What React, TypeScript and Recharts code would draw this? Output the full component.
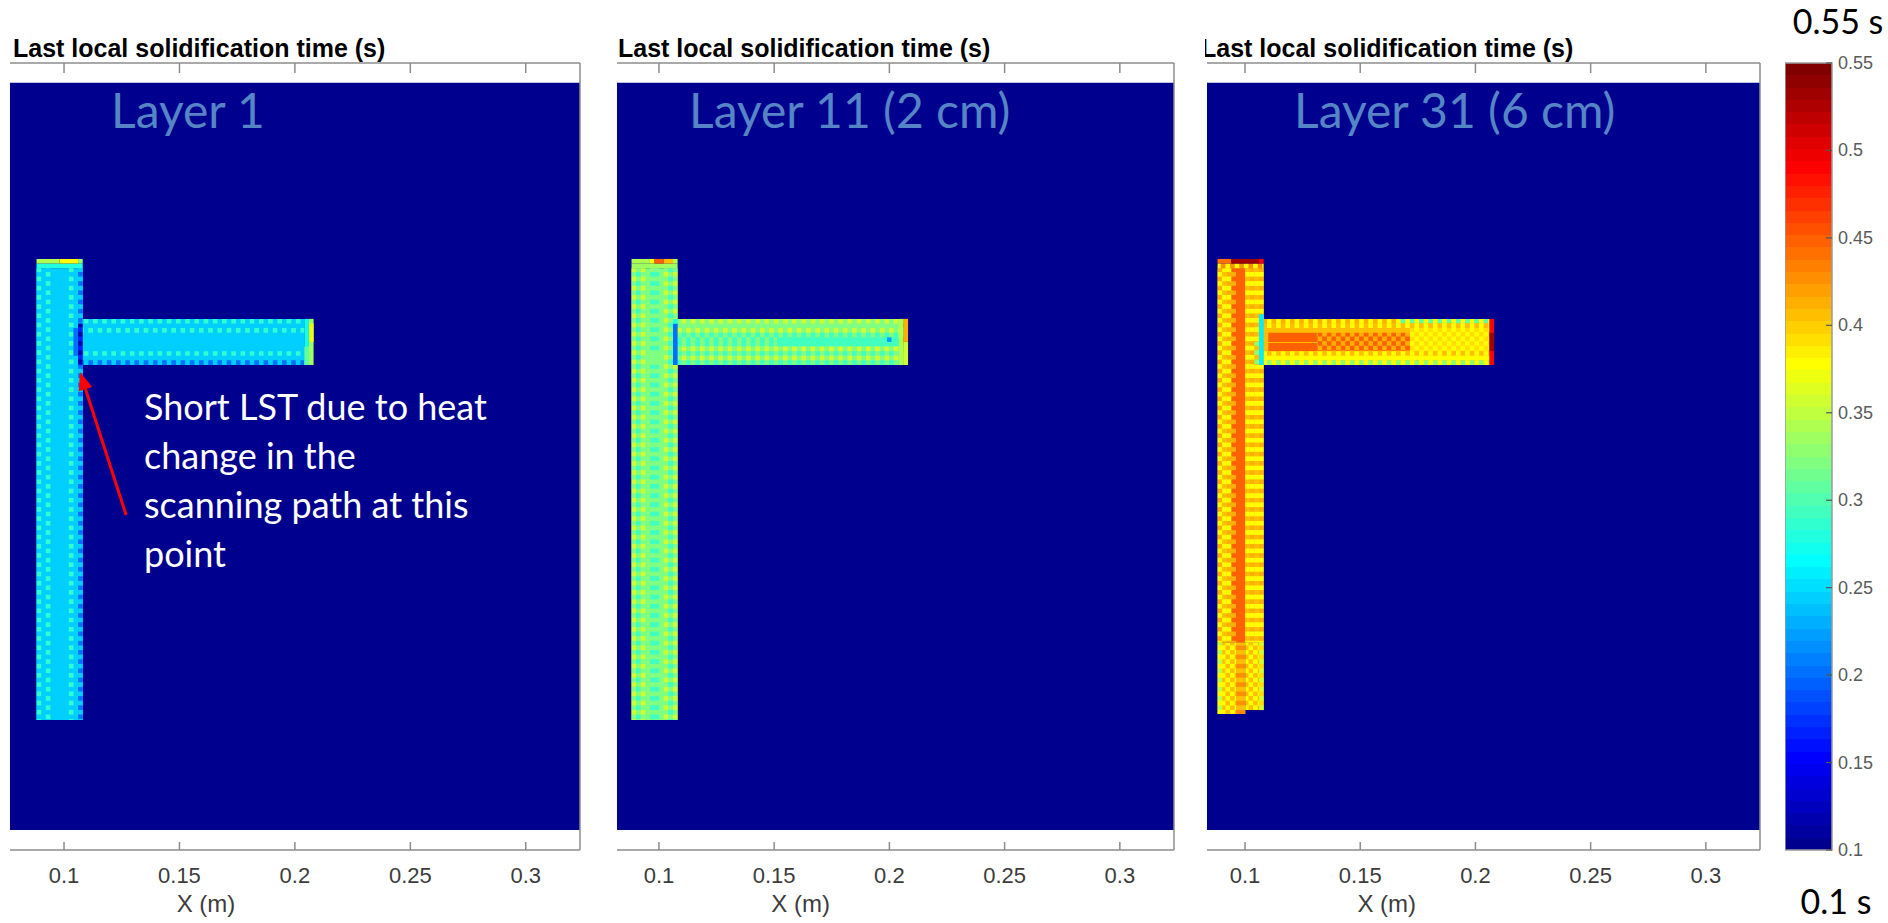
import { ComposedChart, ReferenceArea, ReferenceLine, Scatter, XAxis, YAxis } from 'recharts'

// colour scale of the maps (s)
const C_MIN = 0.1
const C_MAX = 0.55
const CBAR_TICKS = [0.1, 0.15, 0.2, 0.25, 0.3, 0.35, 0.4, 0.45, 0.5, 0.55]

// x axis (m)
const X_TICKS = [0.1, 0.15, 0.2, 0.25, 0.3]
const X_LABEL_AT = [0.1615]
const X_MAX = 0.3235
const X_MIN = [0.0766, 0.0818, 0.0835]

// y extent (m), no labels shown
const Y_DOMAIN = [0, 0.3414]
const HEAT_Y = [0.0087, 0.3328]

const LAYER_NAMES = ['Layer 1', 'Layer 11 (2 cm)', 'Layer 31 (6 cm)']
const NOTE_LINES = ['Short LST due to heat', 'change in the', 'scanning path at this', 'point']
const ARROW = [
  { x: 0.1269, y: 0.1453 },
  { x: 0.1069, y: 0.2074 },
]

// [x1, x2, y1, y2, value, dotValue?, texture?, phase?]
type Zone = [number, number, number, number, number, number?, string?, number?]

const LAYER1_ZONES: Zone[] = [
  [0.0881, 0.1081, 0.0564, 0.2524, 0.245],
  [0.0881, 0.0901, 0.0564, 0.2524, 0.245, 0.285, 'v'],
  [0.0921, 0.0941, 0.0564, 0.2524, 0.245, 0.285, 'v', 1],
  [0.1021, 0.1041, 0.0564, 0.2524, 0.245, 0.285, 'v'],
  [0.1061, 0.1081, 0.0564, 0.2524, 0.245, 0.2, 'v', 1],
  [0.0881, 0.1081, 0.2524, 0.2544, 0.28],
  [0.0881, 0.0981, 0.2544, 0.2564, 0.34],
  [0.0981, 0.1061, 0.2544, 0.2564, 0.375],
  [0.1061, 0.1081, 0.2544, 0.2564, 0.33],
  [0.1081, 0.2041, 0.2104, 0.2304, 0.245],
  [0.1081, 0.2041, 0.2284, 0.2304, 0.245, 0.285, 'h'],
  [0.1081, 0.2041, 0.2244, 0.2264, 0.245, 0.285, 'h', 1],
  [0.1081, 0.2041, 0.2144, 0.2164, 0.245, 0.285, 'h'],
  [0.1081, 0.2041, 0.2104, 0.2124, 0.245, 0.2, 'h', 1],
  [0.1041, 0.1061, 0.2144, 0.2264, 0.2],
  [0.1061, 0.1081, 0.2104, 0.2284, 0.17, 0.12, 'v'],
  [0.2041, 0.2061, 0.2104, 0.2304, 0.27],
  [0.2041, 0.2061, 0.2104, 0.2184, 0.31],
  [0.2061, 0.2081, 0.2104, 0.2304, 0.335],
  [0.2061, 0.2081, 0.2204, 0.2284, 0.37],
]

const LAYER11_ZONES: Zone[] = [
  [0.0881, 0.1081, 0.0564, 0.2524, 0.325],
  [0.0881, 0.0901, 0.0564, 0.2524, 0.325, 0.355, 'v'],
  [0.0901, 0.0921, 0.0564, 0.2524, 0.325, 0.29, 'v', 1],
  [0.0921, 0.0941, 0.0564, 0.2524, 0.325, 0.355, 'v'],
  [0.0961, 0.1001, 0.0564, 0.2104, 0.325, 0.29, 'v', 1],
  [0.0961, 0.1001, 0.2164, 0.2524, 0.29, 0.325, 'v'],
  [0.1021, 0.1041, 0.0564, 0.2524, 0.325, 0.355, 'v', 1],
  [0.1041, 0.1061, 0.0564, 0.2524, 0.325, 0.29, 'v'],
  [0.1061, 0.1081, 0.0564, 0.2524, 0.325, 0.355, 'v', 1],
  [0.0881, 0.1081, 0.2524, 0.2544, 0.335],
  [0.0881, 0.0961, 0.2544, 0.2564, 0.345],
  [0.0961, 0.0981, 0.2544, 0.2564, 0.375],
  [0.0981, 0.1021, 0.2544, 0.2564, 0.45],
  [0.1021, 0.1061, 0.2544, 0.2564, 0.405],
  [0.1061, 0.1081, 0.2544, 0.2564, 0.34],
  [0.1081, 0.2061, 0.2104, 0.2304, 0.325],
  [0.1081, 0.2061, 0.2284, 0.2304, 0.325, 0.355, 'h'],
  [0.1081, 0.2061, 0.2244, 0.2264, 0.325, 0.355, 'h', 1],
  [0.1081, 0.2061, 0.2224, 0.2244, 0.325, 0.29, 'h'],
  [0.1081, 0.1512, 0.2184, 0.2224, 0.325, 0.29, 'h', 1],
  [0.1512, 0.2041, 0.2184, 0.2224, 0.29],
  [0.1989, 0.2009, 0.2204, 0.2224, 0.22],
  [0.1081, 0.2061, 0.2164, 0.2184, 0.325, 0.355, 'h'],
  [0.1081, 0.2061, 0.2144, 0.2164, 0.325, 0.29, 'h', 1],
  [0.1081, 0.2061, 0.2124, 0.2144, 0.325, 0.355, 'h'],
  [0.1081, 0.2061, 0.2104, 0.2124, 0.325, 0.29, 'h', 1],
  [0.1061, 0.1081, 0.2104, 0.2284, 0.205],
  [0.1061, 0.1081, 0.2284, 0.2304, 0.28],
  [0.2041, 0.2061, 0.2104, 0.2304, 0.34],
  [0.2061, 0.2081, 0.2104, 0.2204, 0.36],
  [0.2061, 0.2081, 0.2204, 0.2304, 0.41],
]

const LAYER31_ZONES: Zone[] = [
  [0.0881, 0.1081, 0.09, 0.2524, 0.405],
  [0.0881, 0.1001, 0.059, 0.09, 0.375, 0.405, 'c'],
  [0.1001, 0.1081, 0.0607, 0.09, 0.375, 0.405, 'c'],
  [0.0881, 0.0901, 0.059, 0.09, 0.35, 0.38, 'v'],
  [0.0961, 0.1001, 0.059, 0.09, 0.405, 0.43, 'v'],
  [0.1061, 0.1081, 0.0607, 0.09, 0.36, 0.39, 'v'],
  [0.0881, 0.0901, 0.09, 0.2524, 0.38, 0.41, 'v'],
  [0.0901, 0.0921, 0.09, 0.2524, 0.405, 0.38, 'v'],
  [0.0921, 0.0941, 0.09, 0.2524, 0.38, 0.41, 'v', 1],
  [0.0941, 0.0961, 0.09, 0.2524, 0.41, 0.45, 'v'],
  [0.0961, 0.1001, 0.09, 0.2524, 0.45],
  [0.1001, 0.1021, 0.09, 0.2524, 0.405, 0.38, 'v', 1],
  [0.1021, 0.1041, 0.09, 0.2524, 0.38, 0.41, 'v'],
  [0.1041, 0.1061, 0.09, 0.2524, 0.405, 0.375, 'v', 1],
  [0.1061, 0.1081, 0.09, 0.2524, 0.38, 0.41, 'v'],
  [0.0881, 0.1081, 0.2524, 0.2544, 0.43, 0.38, 'h'],
  [0.0881, 0.0941, 0.2544, 0.2564, 0.44],
  [0.0941, 0.1061, 0.2544, 0.2564, 0.53],
  [0.1061, 0.1081, 0.2544, 0.2564, 0.49],
  [0.1081, 0.2061, 0.2104, 0.2304, 0.405],
  [0.1081, 0.1661, 0.2284, 0.2304, 0.38, 0.41, 'h'],
  [0.1661, 0.2061, 0.2284, 0.2304, 0.38, 0.31, 'h'],
  [0.1081, 0.2061, 0.2264, 0.2284, 0.405, 0.38, 'h', 1],
  [0.1101, 0.1312, 0.2204, 0.2244, 0.45],
  [0.1101, 0.1312, 0.2164, 0.2199, 0.45],
  [0.1312, 0.1716, 0.2164, 0.2244, 0.41, 0.45, 'c'],
  [0.1716, 0.2061, 0.2164, 0.2264, 0.39, 0.38, 'c'],
  [0.1081, 0.2061, 0.2144, 0.2164, 0.405, 0.38, 'h'],
  [0.1081, 0.2061, 0.2124, 0.2144, 0.38],
  [0.1081, 0.2061, 0.2104, 0.2124, 0.38, 0.33, 'h', 1],
  [0.1041, 0.1061, 0.2104, 0.2204, 0.405, 0.33, 'v'],
  [0.1061, 0.1081, 0.2104, 0.2324, 0.26],
  [0.2061, 0.2081, 0.2104, 0.2304, 0.49],
  [0.2061, 0.2081, 0.2164, 0.2244, 0.53],
]

const ZONES = [LAYER1_ZONES, LAYER11_ZONES, LAYER31_ZONES]

// page layout (px)
const PANELS = [
  { left: 10, right: 580, titleX: 13, nameX: 111 },
  { left: 617, right: 1174, titleX: 618, nameX: 689 },
  { left: 1207, right: 1760, titleX: 1201, nameX: 1294 },
]
const CBAR_LEFT = 1785
const CBAR_W = 47
const CELL = 4.61
const AXIS = '#8c8c8c'
const SANS = '"Liberation Sans", Arial, sans-serif'
const HUMAN = 'Lato, "Open Sans", sans-serif'

function jetIdx(i: number) {
  const t = (i + 1) / 64
  const c = (a: number) => Math.round(Math.max(0, Math.min(1, a)) * 255)
  const r = c(Math.min(4 * t - 1.5, -4 * t + 4.5))
  const g = c(Math.min(4 * t - 0.5, -4 * t + 3.5))
  const b = c(Math.min(4 * t + 0.5, -4 * t + 2.5))
  return `rgb(${r},${g},${b})`
}

function jet(v: number) {
  const i = Math.floor(((v - C_MIN) / (C_MAX - C_MIN)) * 64)
  return jetIdx(Math.min(63, Math.max(0, i)))
}

function Texture({ id, zone }: { id: string; zone: Zone }) {
  const [, , , , v, d = v, kind = 'v', phase = 0] = zone
  const w = kind === 'v' ? CELL : 2 * CELL
  const h = kind === 'h' ? CELL : 2 * CELL
  return (
    <pattern
      id={id}
      patternUnits="userSpaceOnUse"
      width={w}
      height={h}
      x={kind === 'h' ? phase * CELL : 0}
      y={kind === 'v' ? phase * CELL : 0}
    >
      <rect width={w} height={h} fill={jet(v)} />
      {kind === 'v' && <rect width={w} height={CELL} fill={jet(d)} />}
      {kind === 'h' && <rect width={CELL} height={h} fill={jet(d)} />}
      {kind === 'c' && (
        <>
          <rect width={CELL} height={CELL} fill={jet(d)} />
          <rect x={CELL} y={CELL} width={CELL} height={CELL} fill={jet(d)} />
        </>
      )}
    </pattern>
  )
}

function Defs() {
  const stops = []
  for (let i = 63; i >= 0; i--) {
    const a = ((63 - i) / 64) * 100
    const b = ((64 - i) / 64) * 100
    stops.push(<stop key={`a${i}`} offset={`${a}%`} stopColor={jetIdx(i)} />)
    stops.push(<stop key={`b${i}`} offset={`${b}%`} stopColor={jetIdx(i)} />)
  }
  return (
    <svg width={1} height={1} style={{ position: 'absolute', left: 0, top: 0 }}>
      <defs>
        <linearGradient id="jetbar" x1="0" y1="0" x2="0" y2="1">
          {stops}
        </linearGradient>
        {ZONES.map((zs, p) =>
          zs.map((z, i) => (z[5] === undefined ? null : <Texture key={`${p}-${i}`} id={`tx${p}-${i}`} zone={z} />)),
        )}
      </defs>
    </svg>
  )
}

const TopTick = (p: any) => (
  <line x1={p.x} x2={p.x} y1={p.y} y2={p.y + 10} stroke={AXIS} strokeWidth={1.5} />
)

const BottomTick = (p: any) => (
  <g>
    <line x1={p.x} x2={p.x} y1={p.y} y2={p.y - 8} stroke={AXIS} strokeWidth={1.5} />
    <text x={p.x} y={p.y + 33} textAnchor="middle" fontFamily={SANS} fontSize={22} fill="#3c3c3c">
      {String(p.payload.value)}
    </text>
  </g>
)

const LabelTick = (p: any) => (
  <text x={p.x} y={p.y + 17} textAnchor="middle" fontFamily={SANS} fontSize={24} fill="#3c3c3c">
    X (m)
  </text>
)

const CbarTick = (p: any) => (
  <g>
    <line x1={p.x} x2={p.x - 6} y1={p.y} y2={p.y} stroke="#555" strokeWidth={1.2} />
    <text x={p.x + 6} y={p.y + 6} fontFamily={SANS} fontSize={18} fill="#5a5a5a">
      {String(p.payload.value)}
    </text>
  </g>
)

function ArrowShape(p: any) {
  const { x1, y1, x2, y2 } = p
  const len = Math.hypot(x2 - x1, y2 - y1)
  const ux = (x2 - x1) / len
  const uy = (y2 - y1) / len
  const hl = 18
  const hw = 7
  const bx = x2 - ux * hl
  const by = y2 - uy * hl
  return (
    <g>
      <line x1={x1} y1={y1} x2={bx} y2={by} stroke="#ff0000" strokeWidth={3} />
      <polygon
        points={`${x2},${y2} ${bx - uy * hw},${by + ux * hw} ${bx + uy * hw},${by - ux * hw}`}
        fill="#ff0000"
      />
    </g>
  )
}

function Panel({ idx }: { idx: number }) {
  const { left, right } = PANELS[idx]
  const zones = ZONES[idx]
  const xDomain = [X_MIN[idx], X_MAX]
  const centers = zones.map((z) => ({ x: (z[0] + z[1]) / 2, y: (z[2] + z[3]) / 2 }))
  const common = {
    type: 'number' as const,
    dataKey: 'x',
    domain: xDomain,
    interval: 0 as const,
    allowDataOverflow: true,
    tickLine: false,
    tickSize: 0,
    tickMargin: 0,
  }
  return (
    <div style={{ position: 'absolute', left, top: 0 }}>
      <ComposedChart width={right - left + 1} height={923} margin={{ top: 0, right: 0, bottom: 0, left: 0 }}>
        <XAxis
          {...common}
          xAxisId="top"
          orientation="top"
          ticks={X_TICKS}
          height={63}
          axisLine={{ stroke: AXIS, strokeWidth: 1.5 }}
          tick={TopTick}
        />
        <XAxis
          {...common}
          xAxisId="b"
          ticks={X_TICKS}
          height={45}
          axisLine={{ stroke: AXIS, strokeWidth: 1.5 }}
          tick={BottomTick}
        />
        <XAxis {...common} xAxisId="lab" ticks={X_LABEL_AT} height={28} axisLine={false} tick={LabelTick} />
        <YAxis
          orientation="right"
          type="number"
          dataKey="y"
          domain={Y_DOMAIN}
          width={1}
          allowDataOverflow
          tick={false}
          tickLine={false}
          axisLine={{ stroke: AXIS, strokeWidth: 1.5 }}
        />
        <ReferenceArea
          xAxisId="b"
          x1={xDomain[0]}
          x2={X_MAX}
          y1={HEAT_Y[0]}
          y2={HEAT_Y[1]}
          fill={jet(C_MIN)}
          fillOpacity={1}
          stroke="none"
          ifOverflow="visible"
        />
        {zones.map((z, i) => (
          <ReferenceArea
            key={i}
            xAxisId="b"
            x1={z[0]}
            x2={z[1]}
            y1={z[2]}
            y2={z[3]}
            fill={z[5] === undefined ? jet(z[4]) : `url(#tx${idx}-${i})`}
            fillOpacity={1}
            stroke="none"
            ifOverflow="visible"
          />
        ))}
        <Scatter xAxisId="b" data={centers} shape={() => <g />} isAnimationActive={false} />
        {idx === 0 && <ReferenceLine xAxisId="b" segment={ARROW} shape={ArrowShape} ifOverflow="visible" />}
      </ComposedChart>
    </div>
  )
}

function ColorBar() {
  return (
    <div style={{ position: 'absolute', left: CBAR_LEFT, top: 0 }}>
      <ComposedChart width={CBAR_W + 56} height={923} margin={{ top: 63, right: 0, bottom: 73, left: 0 }}>
        <XAxis type="number" dataKey="x" domain={[0, 1]} allowDataOverflow hide />
        <YAxis
          orientation="right"
          type="number"
          dataKey="y"
          domain={[C_MIN, C_MAX]}
          allowDataOverflow
          ticks={CBAR_TICKS}
          interval={0}
          width={56}
          axisLine={false}
          tickLine={false}
          tickSize={0}
          tickMargin={0}
          tick={CbarTick}
        />
        <ReferenceArea
          x1={0}
          x2={1}
          y1={C_MIN}
          y2={C_MAX}
          fill="url(#jetbar)"
          fillOpacity={1}
          stroke="#9a9a9a"
          strokeWidth={1.5}
          ifOverflow="visible"
        />
        <Scatter data={[{ x: 0.5, y: 0.3 }]} shape={() => <g />} isAnimationActive={false} />
      </ComposedChart>
    </div>
  )
}

export default function App() {
  return (
    <div style={{ position: 'absolute', left: 0, top: 0, width: 1888, height: 923, background: '#fff' }}>
      <Defs />
      {PANELS.map((_, i) => (
        <Panel key={i} idx={i} />
      ))}
      <ColorBar />
      <svg width={1888} height={923} style={{ position: 'absolute', left: 0, top: 0, pointerEvents: 'none' }}>
        <defs>
          <clipPath id="title3">
            <rect x={1205} y={0} width={600} height={62} />
          </clipPath>
        </defs>
        {PANELS.map((p, i) => (
          <g key={i}>
            <text
              x={p.titleX}
              y={57}
              fontFamily={SANS}
              fontWeight="bold"
              fontSize={25}
              fill="#000"
              clipPath={i === 2 ? 'url(#title3)' : undefined}
            >
              Last local solidification time (s)
            </text>
            <text x={p.nameX} y={128} fontFamily={HUMAN} fontSize={48} fill="#5585c5">
              {LAYER_NAMES[i]}
            </text>
          </g>
        ))}
        {NOTE_LINES.map((line, i) => (
          <text key={i} x={144} y={420 + i * 49} fontFamily={HUMAN} fontSize={36} fill="#ffffff">
            {line}
          </text>
        ))}
        <text x={1838} y={34} textAnchor="middle" fontFamily={HUMAN} fontSize={34} fill="#000">
          0.55 s
        </text>
        <text x={1836} y={914} textAnchor="middle" fontFamily={HUMAN} fontSize={34} fill="#000">
          0.1 s
        </text>
      </svg>
    </div>
  )
}
